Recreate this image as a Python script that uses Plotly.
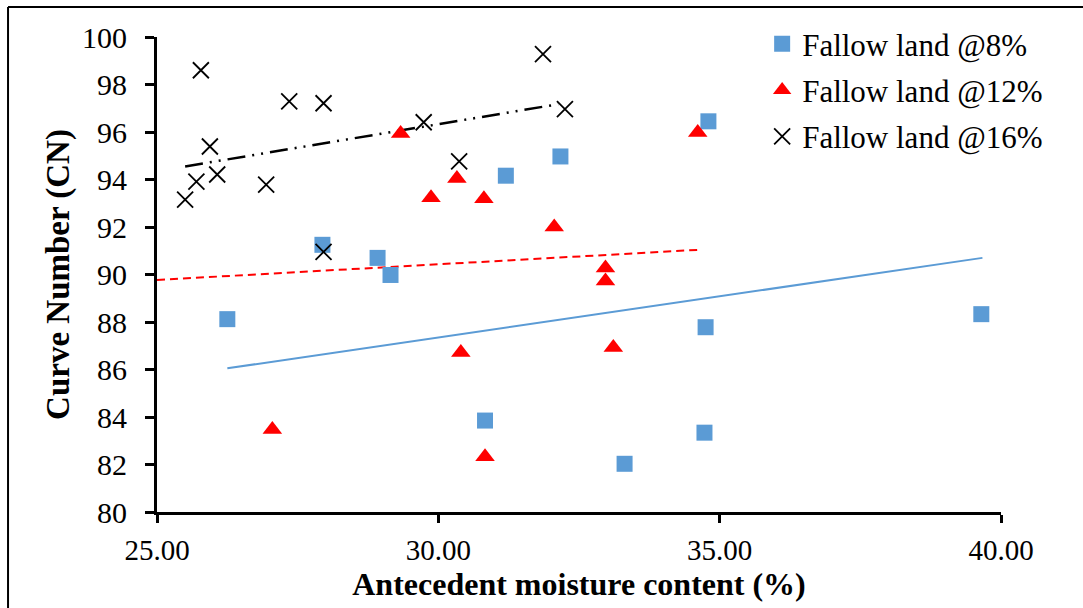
import plotly.graph_objects as go

# ---- data ----
x8 = [26.25, 27.94, 28.92, 29.15, 31.20, 32.17, 34.80, 34.75, 34.73, 30.83, 33.31, 39.65]
y8 = [88.12, 91.25, 90.70, 89.98, 94.16, 94.97, 96.45, 87.78, 83.34, 83.85, 82.03, 88.33]

x12 = [29.33, 29.87, 30.33, 30.81, 32.06, 34.61, 32.97, 32.97, 33.11, 30.40, 27.05, 30.83]
y12 = [95.94, 93.23, 94.04, 93.19, 92.00, 95.98, 90.27, 89.73, 86.93, 86.72, 83.47, 82.33]

x16 = [25.50, 25.70, 25.78, 25.94, 26.07, 26.94, 27.35, 27.96, 27.96, 29.74, 30.37, 31.86, 32.25]
y16 = [93.15, 93.91, 98.60, 95.39, 94.21, 93.78, 97.29, 97.21, 90.95, 96.41, 94.76, 99.28, 96.96]

# trend line endpoints
trend8_x = [26.25, 39.67]
trend8_y = [86.05, 90.70]
trend12_x = [25.00, 34.63]
trend12_y = [89.77, 91.04]
trend16_x = [25.50, 32.13]
trend16_y = [94.55, 97.17]

names = ["Fallow land @8%", "Fallow land @12%", "Fallow land @16%"]
x_ticks = [25, 30, 35, 40]
y_ticks = list(range(80, 101, 2))

BLUE = "#5B9BD5"
RED = "#FF0000"
BLACK = "#000000"
FONT = "Liberation Serif"

fig = go.Figure()

# trend lines
fig.add_trace(go.Scatter(x=trend8_x, y=trend8_y, mode="lines",
                         line=dict(color=BLUE, width=2), showlegend=False, hoverinfo="skip"))
fig.add_trace(go.Scatter(x=trend12_x, y=trend12_y, mode="lines",
                         line=dict(color=RED, width=2, dash="8px,5px"), showlegend=False, hoverinfo="skip"))
fig.add_trace(go.Scatter(x=trend16_x, y=trend16_y, mode="lines",
                         line=dict(color=BLACK, width=2.5, dash="18px,7px,2px,7px,2px,7px"),
                         showlegend=False, hoverinfo="skip"))

# scatter series
fig.add_trace(go.Scatter(x=x8, y=y8, mode="markers", name=names[0], legendgroup="a",
                         marker=dict(symbol="square", size=16, color=BLUE)))
fig.add_trace(go.Scatter(x=x12, y=y12, mode="markers", name=names[1], legendgroup="b",
                         marker=dict(symbol="triangle-up", size=17, color=RED)))
fig.add_trace(go.Scatter(x=x16, y=y16, mode="markers", name=names[2], legendgroup="c",
                         marker=dict(symbol="x-thin-open", size=16, color=BLACK,
                                     line=dict(color=BLACK, width=1.8))))

fig.update_layout(
    width=1083, height=608,
    margin=dict(l=157, r=82, t=37, b=96),
    paper_bgcolor="white", plot_bgcolor="white",
    font=dict(family=FONT, size=30, color="black"),
    showlegend=True,
    legend=dict(x=0.717, y=1.042, xanchor="left", yanchor="top",
                bgcolor="rgba(0,0,0,0)", font=dict(family=FONT, size=31, color="black"),
                traceorder="grouped", tracegroupgap=3, itemwidth=30),
    xaxis=dict(range=[25, 40], tickvals=x_ticks, tickformat=".2f",
               showgrid=False, zeroline=False,
               showline=True, linecolor="black", linewidth=3,
               ticks="outside", ticklen=8, tickwidth=3, tickcolor="black",
               tickfont=dict(family=FONT, size=29), ticklabelstandoff=2,
               title=dict(text="<b>Antecedent moisture content (%)</b>",
                          font=dict(family=FONT, size=32), standoff=6)),
    yaxis=dict(range=[80, 100], tickvals=y_ticks,
               showgrid=False, zeroline=False,
               showline=True, linecolor="black", linewidth=3,
               ticks="outside", ticklen=9, tickwidth=3, tickcolor="black",
               tickfont=dict(family=FONT, size=30), ticklabelstandoff=12,
               title=dict(text="<b>Curve Number (CN)</b>",
                          font=dict(family=FONT, size=33), standoff=3)),
    shapes=[
        dict(type="line", xref="paper", yref="paper", x0=-0.1765, x1=1.1, y0=1.063, y1=1.063,
             line=dict(color="black", width=2)),
        dict(type="line", xref="paper", yref="paper", x0=-0.1765, x1=-0.1765, y0=1.063, y1=-0.3,
             line=dict(color="black", width=2)),
    ],
)

fig.write_html("out.html")
